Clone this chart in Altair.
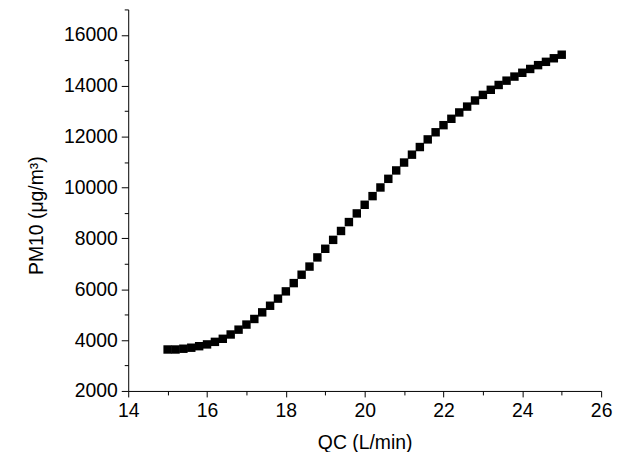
import altair as alt
import pandas as pd

qc = [15.0, 15.2, 15.4, 15.6, 15.8, 16.0, 16.2, 16.4, 16.6, 16.8,
      17.0, 17.2, 17.4, 17.6, 17.8, 18.0, 18.2, 18.4, 18.6, 18.8,
      19.0, 19.2, 19.4, 19.6, 19.8, 20.0, 20.2, 20.4, 20.6, 20.8,
      21.0, 21.2, 21.4, 21.6, 21.8, 22.0, 22.2, 22.4, 22.6, 22.8,
      23.0, 23.2, 23.4, 23.6, 23.8, 24.0, 24.2, 24.4, 24.6, 24.8, 25.0]
pm10 = [3630, 3630, 3660, 3700, 3760, 3830, 3930, 4050, 4220, 4410,
        4610, 4830, 5090, 5350, 5630, 5915, 6240, 6570, 6890, 7250,
        7590, 7940, 8290, 8640, 8980, 9320, 9660, 10000, 10340, 10670,
        10980, 11290, 11590, 11890, 12170, 12450, 12700, 12950, 13180, 13420,
        13640, 13840, 14030, 14200, 14360, 14510, 14660, 14810, 14940, 15080, 15220]

x_ticks = list(range(14, 27))
y_ticks = list(range(2000, 17001, 1000))

df = pd.DataFrame({"qc": qc, "pm10": pm10})

font = "Liberation Sans"
fs = 19.5

chart = alt.Chart(df).mark_square(size=72, color="black", opacity=1).encode(
    x=alt.X("qc:Q", title="QC (L/min)",
            scale=alt.Scale(domain=[14, 26], nice=False, zero=False),
            axis=alt.Axis(values=x_ticks,
                          labelExpr="datum.value % 2 === 0 ? datum.label : ''",
                          tickSize={"condition": {"test": "datum.value % 2 === 0", "value": 6}, "value": 4},
                          grid=False, domainColor="black", tickColor="black",
                          labelFont=font, labelFontSize=fs, labelColor="black",
                          labelPadding=5, labelFlush=False,
                          titleFont=font, titleFontSize=fs, titleFontWeight="normal",
                          titleColor="black", titlePadding=13)),
    y=alt.Y("pm10:Q", title="PM10 (μg/m³)",
            scale=alt.Scale(domain=[2000, 17000], nice=False, zero=False),
            axis=alt.Axis(values=y_ticks, format="d",
                          labelExpr="datum.value % 2000 === 0 && datum.value < 17000 ? datum.value : ''",
                          tickSize={"condition": {"test": "datum.value % 2000 === 0 && datum.value < 17000", "value": 7}, "value": 4},
                          grid=False, domainColor="black", tickColor="black",
                          labelFont=font, labelFontSize=fs, labelColor="black",
                          labelPadding=4, labelFlush=False,
                          titleFont=font, titleFontSize=fs, titleFontWeight="normal",
                          titleColor="black", titlePadding=17, titleY=207)),
).properties(
    width=476, height=384,
    autosize=alt.AutoSizeParams(type="none"),
    padding={"left": 121, "top": 0, "right": 20, "bottom": 60},
).configure_view(stroke=None)

chart.save("out.html", embed_options={"renderer": "svg", "actions": False})
